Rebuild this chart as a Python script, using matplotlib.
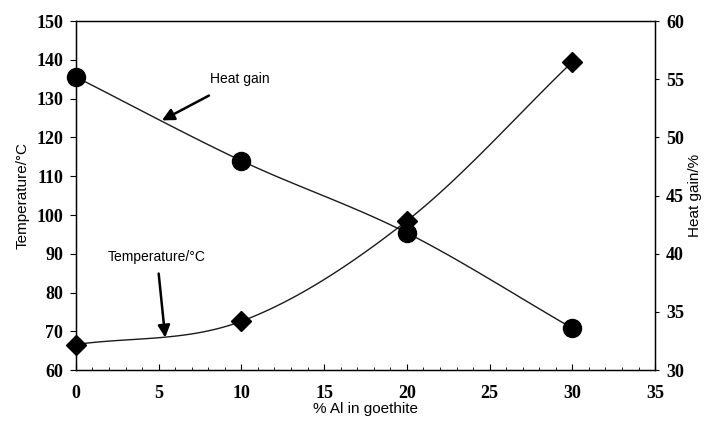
import matplotlib.pyplot as plt
import numpy as np

al = [0, 10, 20, 30]
temperature = [66.6, 72.6, 98.5, 139.5]
heat_gain = [55.2, 48.0, 41.8, 33.6]


def smooth(x, y, n=40):
    # catmull-rom style smoothing like the spreadsheet "smoothed line"
    x = np.asarray(x, float)
    y = np.asarray(y, float)
    px = np.concatenate([[2 * x[0] - x[1]], x, [2 * x[-1] - x[-2]]])
    py = np.concatenate([[2 * y[0] - y[1]], y, [2 * y[-1] - y[-2]]])
    xs, ys = [], []
    t = np.linspace(0, 1, n)
    for i in range(1, len(px) - 2):
        p0, p1, p2, p3 = px[i - 1], px[i], px[i + 1], px[i + 2]
        q0, q1, q2, q3 = py[i - 1], py[i], py[i + 1], py[i + 2]
        bx = [p1, p1 + (p2 - p0) / 6, p2 - (p3 - p1) / 6, p2]
        by = [q1, q1 + (q2 - q0) / 6, q2 - (q3 - q1) / 6, q2]
        xs.append((1 - t) ** 3 * bx[0] + 3 * (1 - t) ** 2 * t * bx[1] + 3 * (1 - t) * t ** 2 * bx[2] + t ** 3 * bx[3])
        ys.append((1 - t) ** 3 * by[0] + 3 * (1 - t) ** 2 * t * by[1] + 3 * (1 - t) * t ** 2 * by[2] + t ** 3 * by[3])
    return np.concatenate(xs), np.concatenate(ys)


fig = plt.figure(figsize=(7.09, 4.23), dpi=100)
ax = fig.add_axes([0.107, 0.125, 0.817, 0.825])
ax2 = ax.twinx()

sx, sy = smooth(al, temperature)
ax.plot(sx, sy, color='#1a1a1a', lw=1.0)
ax.plot(al, temperature, linestyle='none', marker='D', markersize=10, color='black', clip_on=False, zorder=5)

hx, hy = smooth(al, heat_gain)
ax2.plot(hx, hy, color='#1a1a1a', lw=1.0)
ax2.plot(al, heat_gain, linestyle='none', marker='o', markersize=13, color='black', clip_on=False, zorder=5)

ax.set_xlim(0, 35)
ax.set_ylim(60, 150)
ax2.set_ylim(30, 60)
ax.set_xticks(range(0, 36, 5))
ax.set_yticks(range(60, 151, 10))
ax2.set_yticks(range(30, 61, 5))
ax.set_xticks(range(0, 36), minor=True)

for lab in ax.get_xticklabels() + ax.get_yticklabels() + ax2.get_yticklabels():
    lab.set_fontfamily('Liberation Serif')
    lab.set_fontweight('bold')
    lab.set_fontsize(13)

ax.tick_params(axis='y', direction='out', length=4, width=0.8, pad=5)
ax2.tick_params(axis='y', direction='out', length=3, width=0.8, pad=5)
ax.tick_params(axis='x', which='major', direction='in', length=4, width=0.8, pad=11)
ax.tick_params(axis='x', which='minor', direction='in', length=2, width=0.6)

for s in ax.spines.values():
    s.set_linewidth(1.0)

label_font = {'family': 'Liberation Sans', 'size': 11}
ax.set_xlabel('% Al in goethite', fontdict=label_font, labelpad=0)
ax.set_ylabel('Temperature/°C', fontdict=label_font, labelpad=5)
ax2.set_ylabel('Heat gain/%', fontdict=label_font, labelpad=3)

ax.annotate('Heat gain', xy=(5.2, 124.4), xytext=(8.1, 135), fontsize=10, family='Liberation Sans',
            va='center', ha='left',
            arrowprops=dict(arrowstyle='-|>', color='black', lw=1.8, mutation_scale=18,
                            shrinkA=10, shrinkB=0))
ax.annotate('Temperature/°C', xy=(5.4, 68.4), xytext=(4.9, 89.2), fontsize=10, family='Liberation Sans',
            va='center', ha='center',
            arrowprops=dict(arrowstyle='-|>', color='black', lw=1.8, mutation_scale=18,
                            shrinkA=5, shrinkB=0))

fig.savefig('out.png', dpi=100)
